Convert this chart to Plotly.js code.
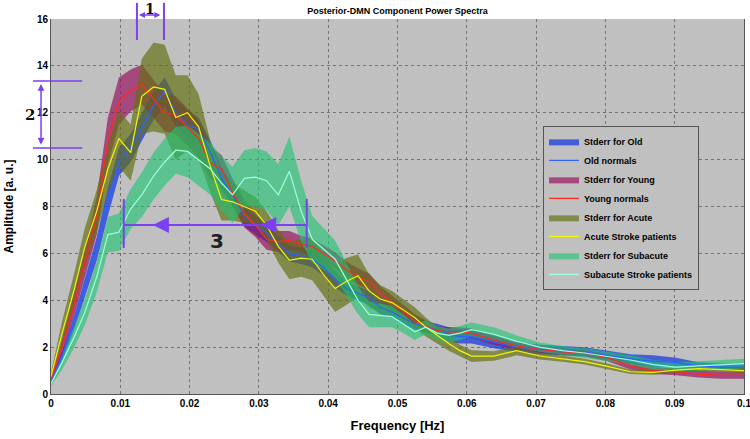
<!DOCTYPE html>
<html>
<head>
<meta charset="utf-8">
<script src="https://cdn.plot.ly/plotly-3.0.1.min.js"></script>
<style>
  html, body { margin: 0; padding: 0; background: #fff; }
  #chart { width: 750px; height: 439px; }
</style>
</head>
<body>
<div id="chart"></div>
<script>
// Frequency bins [Hz]
const freq = [0, 0.0016, 0.0033, 0.0049, 0.0066, 0.0082, 0.0098, 0.0115, 0.0131, 0.0148,
    0.0164, 0.018, 0.0197, 0.0213, 0.023, 0.0246, 0.0262, 0.0279, 0.0295, 0.0311,
    0.0328, 0.0344, 0.0361, 0.0377, 0.0393, 0.041, 0.0426, 0.0443, 0.0459, 0.0475,
    0.0492, 0.0508, 0.0525, 0.0541, 0.0557, 0.0574, 0.059, 0.0607, 0.0639, 0.0672,
    0.0705, 0.0738, 0.077, 0.0803, 0.0836, 0.0869, 0.0902, 0.0934, 0.0967, 0.1];

const xTicks = [0, 0.01, 0.02, 0.03, 0.04, 0.05, 0.06, 0.07, 0.08, 0.09, 0.1];
const xTickText = ['0', '0.01', '0.02', '0.03', '0.04', '0.05', '0.06', '0.07', '0.08', '0.09', '0.1'];

// Old normals
const oldMean = [0.55, 1.6, 3.0, 4.5, 6.2, 8.2, 9.9, 10.5, 11.4, 12.3,
    12.9, 12.0, 11.5, 11.3, 10.3, 9.2, 8.5, 7.6, 7.2, 6.9,
    6.4, 6.0, 5.9, 5.75, 5.4, 4.9, 4.5, 4.3, 4.1, 3.7,
    3.5, 3.25, 3.0, 2.85, 2.75, 2.55, 2.45, 2.45, 2.2, 2.0,
    1.9, 1.85, 1.8, 1.65, 1.5, 1.4, 1.35, 1.2, 1.15, 1.15];
const oldErr = [0.1, 0.2, 0.3, 0.4, 0.5, 0.6, 0.6, 0.6, 0.6, 0.6,
    0.6, 0.6, 0.6, 0.5, 0.5, 0.5, 0.45, 0.45, 0.4, 0.4,
    0.35, 0.35, 0.35, 0.35, 0.35, 0.35, 0.3, 0.3, 0.3, 0.3,
    0.25, 0.25, 0.25, 0.25, 0.25, 0.3, 0.3, 0.3, 0.25, 0.2,
    0.2, 0.2, 0.2, 0.2, 0.2, 0.25, 0.2, 0.15, 0.15, 0.15];

// Young normals
const youngMean = [0.6, 2.0, 3.8, 5.6, 7.6, 10.8, 12.5, 12.95, 13.2, 12.6,
    12.0, 11.9, 11.4, 10.9, 9.85, 9.6, 8.6, 7.7, 7.2, 6.6,
    6.5, 6.55, 6.4, 6.3, 6.0, 5.7, 5.3, 5.0, 4.8, 4.3,
    3.9, 3.5, 3.1, 2.9, 2.7, 2.65, 2.65, 2.6, 2.3, 2.05,
    1.9, 1.8, 1.75, 1.55, 1.2, 1.0, 0.95, 0.85, 0.8, 0.8];
const youngErr = [0.1, 0.3, 0.5, 0.6, 0.8, 1.0, 1.0, 0.9, 0.85, 0.8,
    0.8, 0.8, 0.8, 0.8, 0.7, 0.6, 0.6, 0.6, 0.5, 0.45,
    0.45, 0.4, 0.35, 0.35, 0.35, 0.35, 0.35, 0.35, 0.35, 0.3,
    0.3, 0.3, 0.3, 0.25, 0.2, 0.2, 0.2, 0.2, 0.2, 0.15,
    0.15, 0.15, 0.15, 0.15, 0.15, 0.15, 0.15, 0.15, 0.15, 0.15];

// Acute stroke patients
const acuteMean = [0.75, 2.6, 4.4, 6.3, 7.8, 9.6, 10.9, 10.3, 12.7, 13.1,
    13.0, 11.8, 12.0, 11.4, 9.7, 8.3, 8.2, 8.0, 7.8, 7.2,
    6.3, 5.7, 5.8, 5.75, 5.1, 4.5, 4.8, 5.05, 4.4, 4.05,
    3.9, 3.6, 3.25, 2.85, 2.5, 2.15, 1.85, 1.62, 1.62, 1.85,
    1.62, 1.5, 1.38, 1.18, 0.95, 0.92, 1.02, 1.08, 1.05, 1.0];
const acuteErr = [0.15, 0.5, 0.7, 0.8, 0.9, 1.0, 1.2, 1.2, 1.6, 1.9,
    1.9, 1.8, 1.6, 1.4, 1.1, 0.9, 0.8, 0.7, 0.6, 0.6,
    0.7, 0.8, 0.8, 0.9, 0.9, 1.0, 1.0, 0.9, 0.7, 0.6,
    0.5, 0.45, 0.45, 0.4, 0.35, 0.3, 0.25, 0.25, 0.2, 0.2,
    0.15, 0.12, 0.12, 0.12, 0.1, 0.1, 0.1, 0.1, 0.1, 0.1];

// Subacute stroke patients
const subMean = [0.45, 1.35, 2.4, 3.5, 5.0, 6.8, 6.9, 7.9, 8.5, 9.3,
    9.9, 10.4, 10.35, 10.0, 9.6, 9.0, 8.5, 9.2, 9.25, 9.1,
    8.5, 9.5, 7.8, 6.6, 6.2, 5.75, 4.9, 4.0, 3.4, 3.35,
    3.3, 3.0, 2.65, 2.85, 2.6, 2.5, 2.6, 2.75, 2.55, 2.25,
    2.0, 1.85, 1.75, 1.6, 1.45, 1.25, 1.15, 1.2, 1.25, 1.3];
const subErr = [0.1, 0.3, 0.45, 0.55, 0.65, 0.75, 0.8, 0.85, 0.95, 1.0,
    1.0, 1.0, 1.1, 1.1, 1.1, 1.15, 1.2, 1.2, 1.25, 1.25,
    1.3, 1.5, 1.3, 1.0, 0.9, 0.8, 0.7, 0.6, 0.55, 0.5,
    0.45, 0.4, 0.35, 0.3, 0.3, 0.3, 0.3, 0.3, 0.3, 0.25,
    0.2, 0.2, 0.2, 0.2, 0.2, 0.2, 0.2, 0.2, 0.2, 0.2];

const groups = [
    { band: 'Stderr for Old', line: 'Old normals', mean: oldMean, err: oldErr,
      fill: 'rgba(20,55,225,0.72)', color: '#2f62ff' },
    { band: 'Stderr for Young', line: 'Young normals', mean: youngMean, err: youngErr,
      fill: 'rgba(150,15,95,0.68)', color: '#ff2a1f' },
    { band: 'Stderr for Acute', line: 'Acute Stroke patients', mean: acuteMean, err: acuteErr,
      fill: 'rgba(100,112,18,0.68)', color: '#f5f500' },
    { band: 'Stderr for Subacute', line: 'Subacute Stroke patients', mean: subMean, err: subErr,
      fill: 'rgba(30,195,115,0.62)', color: '#9dffe0' }
];

function bandTrace(g, rank) {
    const upper = g.mean.map((m, i) => m + g.err[i]);
    const lower = g.mean.map((m, i) => Math.max(m - g.err[i], 0));
    return {
        x: freq.concat(freq.slice().reverse()),
        y: upper.concat(lower.slice().reverse()),
        type: 'scatter',
        mode: 'lines',
        fill: 'toself',
        fillcolor: g.fill,
        line: { width: 0, color: g.fill },
        name: g.band,
        legendrank: rank,
        hoverinfo: 'skip'
    };
}

function lineTrace(g, rank) {
    return {
        x: freq,
        y: g.mean,
        type: 'scatter',
        mode: 'lines',
        line: { color: g.color, width: 1.2 },
        name: g.line,
        legendrank: rank
    };
}

const traces = [];
groups.forEach((g, k) => traces.push(bandTrace(g, 2 * k + 1)));
groups.forEach((g, k) => traces.push(lineTrace(g, 2 * k + 2)));

// Purple markup drawn on the figure
const mark = '#7b40f2';
const vline = (x, y0, y1) => ({ type: 'line', xref: 'paper', yref: 'paper', x0: x, x1: x, y0: y0, y1: y1, line: { color: mark, width: 2 } });
const hline = (y, x0, x1, w) => ({ type: 'line', xref: 'paper', yref: 'paper', x0: x0, x1: x1, y0: y, y1: y, line: { color: mark, width: w || 1.5 } });
const arrow = (x, y, ax, ay, side, size, width) => ({
    xref: 'paper', yref: 'paper', axref: 'paper', ayref: 'paper',
    x: x, y: y, ax: ax, ay: ay, text: '', showarrow: true,
    arrowhead: 2, arrowside: side, arrowsize: size || 1, arrowwidth: width || 1.5, arrowcolor: mark
});
const label = (txt, x, y, font, yanchor) => ({
    xref: 'paper', yref: 'paper', x: x, y: y, text: txt, showarrow: false,
    xanchor: 'center', yanchor: yanchor || 'middle', borderpad: 0, font: font
});

const serif = { family: 'DejaVu Serif, serif', size: 15, weight: 'bold', color: '#111' };

const layout = {
    width: 750,
    height: 439,
    margin: { l: 51, r: 6, t: 19, b: 45 },
    paper_bgcolor: '#ffffff',
    plot_bgcolor: '#c0c0c0',
    font: { family: 'Liberation Sans, Arial, sans-serif', color: '#000', size: 10, weight: 'bold' },
    title: {
        text: 'Posterior-DMN Component Power Spectra',
        font: { size: 9, weight: 'bold' },
        x: 0.5, xref: 'paper', y: 0.975, yref: 'container', yanchor: 'middle'
    },
    xaxis: {
        range: [0, 0.1], tickmode: 'array', tickvals: xTicks, ticktext: xTickText,
        ticklabeloverflow: 'allow',
        showgrid: true, gridcolor: '#737373', griddash: 'dot', gridwidth: 1,
        zeroline: false, showline: true, linecolor: '#555', linewidth: 1,
        ticks: '', tickfont: { size: 10, weight: 'bold' },
        title: { text: 'Frequency [Hz]', font: { size: 13, weight: 'bold' }, standoff: 12 }
    },
    yaxis: {
        range: [0, 16], tick0: 0, dtick: 2,
        showgrid: true, gridcolor: '#737373', griddash: 'dot', gridwidth: 1,
        zeroline: false, showline: true, mirror: true, linecolor: '#555', linewidth: 1,
        ticks: '', tickfont: { size: 10, weight: 'bold' },
        title: { text: 'Amplitude [a. u.]', font: { size: 12, weight: 'bold' }, standoff: 20 }
    },
    showlegend: true,
    legend: {
        x: 0.71, y: 0.715, xanchor: 'left', yanchor: 'top',
        bgcolor: '#c0c0c0', bordercolor: '#555', borderwidth: 1,
        font: { size: 9, weight: 'bold' }, tracegroupgap: 0
    },
    shapes: [
        // 1
        vline(0.124, 1.043, 0.944), vline(0.163, 1.043, 0.944),
        // 2
        hline(0.835, -0.026, 0.045), hline(0.656, -0.026, 0.045),
        // 3
        vline(0.105, 0.52, 0.389), vline(0.369, 0.52, 0.389),
        hline(0.4507, 0.105, 0.369, 2)
    ],
    annotations: [
        arrow(0.127, 1.0107, 0.160, 1.0107, 'end+start', 0.8),
        label('1', 0.143, 1.05, { family: 'DejaVu Serif, serif', size: 14, weight: 'bold', color: '#111' }, 'top'),
        arrow(-0.0144, 0.827, -0.0144, 0.661, 'end+start', 0.9),
        label('2', -0.0303, 0.744, serif),
        arrow(0.147, 0.4507, 0.18, 0.4507, 'end', 1.6, 2),
        arrow(0.302, 0.4507, 0.36, 0.4507, 'end', 1.6, 2),
        label('3', 0.2395, 0.408, { family: 'DejaVu Sans, sans-serif', size: 20, color: '#222' })
    ]
};

Plotly.newPlot('chart', traces, layout, { displayModeBar: false, staticPlot: true });
</script>
</body>
</html>
